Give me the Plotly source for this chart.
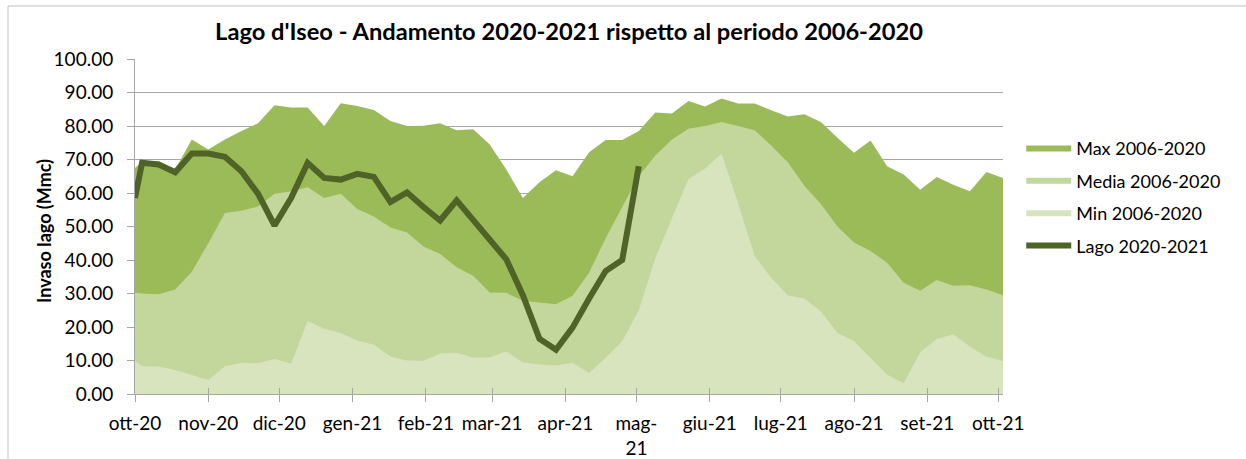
import plotly.graph_objects as go

dates = ["2020-10-01", "2020-10-04", "2020-10-11", "2020-10-18", "2020-10-25",
         "2020-11-01", "2020-11-08", "2020-11-15", "2020-11-22", "2020-11-29",
         "2020-12-06", "2020-12-13", "2020-12-20", "2020-12-27", "2021-01-03",
         "2021-01-10", "2021-01-17", "2021-01-24", "2021-01-31", "2021-02-07",
         "2021-02-14", "2021-02-21", "2021-02-28", "2021-03-07", "2021-03-14",
         "2021-03-21", "2021-03-28", "2021-04-04", "2021-04-11", "2021-04-18",
         "2021-04-25", "2021-05-02", "2021-05-09", "2021-05-16", "2021-05-23",
         "2021-05-30", "2021-06-06", "2021-06-13", "2021-06-20", "2021-06-27",
         "2021-07-04", "2021-07-11", "2021-07-18", "2021-07-25", "2021-08-01",
         "2021-08-08", "2021-08-15", "2021-08-22", "2021-08-29", "2021-09-05",
         "2021-09-12", "2021-09-19", "2021-09-26", "2021-10-03"]

max_vals = [67.5, 69.5, 69.5, 67.0, 76.0, 73.0, 76.0, 78.5, 80.8, 86.2,
            85.5, 85.5, 80.0, 86.8, 86.0, 84.8, 81.5, 80.0, 80.1, 80.8,
            78.7, 79.0, 74.5, 67.0, 58.5, 63.2, 66.8, 65.0, 72.2, 75.8,
            75.8, 78.5, 84.0, 83.7, 87.5, 85.8, 88.2, 86.7, 86.7, 84.7,
            82.8, 83.5, 81.2, 76.5, 72.0, 75.7, 68.0, 65.5, 61.0, 64.8,
            62.5, 60.5, 66.3, 64.5]

media_vals = [30.2, 30.0, 29.8, 31.2, 36.5, 45.0, 54.0, 54.7, 56.0, 59.8,
              60.5, 61.7, 58.5, 59.8, 55.2, 53.0, 49.7, 48.2, 44.0, 41.8,
              37.8, 35.3, 30.3, 30.2, 27.8, 27.3, 26.8, 29.3, 36.2, 46.5,
              55.8, 65.0, 71.2, 76.0, 79.2, 80.0, 81.2, 80.0, 78.7, 74.2,
              69.2, 62.2, 56.7, 50.0, 45.2, 42.7, 39.2, 33.2, 30.8, 34.0,
              32.3, 32.5, 31.2, 29.5]

min_vals = [9.8, 8.3, 8.2, 7.2, 5.7, 4.2, 8.3, 9.3, 9.2, 10.5,
            9.0, 21.8, 19.5, 18.2, 16.0, 14.7, 11.2, 10.0, 9.9, 12.1,
            12.3, 10.8, 11.0, 12.7, 9.5, 8.8, 8.5, 9.3, 6.3, 10.8,
            15.8, 25.0, 40.5, 52.5, 64.2, 67.3, 71.7, 57.0, 41.2, 34.7,
            29.5, 28.5, 24.7, 18.2, 15.8, 10.8, 5.8, 3.2, 12.5, 16.4,
            17.8, 14.2, 11.2, 9.8]

lago_vals = [58.5, 69.0, 68.5, 66.2, 71.8, 71.8, 70.8, 66.5, 59.8, 50.3,
             58.5, 69.0, 64.5, 64.0, 65.7, 64.8, 57.3, 60.2, 55.8, 51.8,
             57.8, 52.0, 46.5, 40.2, 29.5, 16.5, 13.2, 19.8, 28.5, 36.7,
             40.0, 68.0]

month_ticks = ["2020-10-01", "2020-11-01", "2020-12-01", "2021-01-01", "2021-02-01",
               "2021-03-01", "2021-04-01", "2021-05-01", "2021-06-01", "2021-07-01",
               "2021-08-01", "2021-09-01", "2021-10-01"]
month_labels = ["ott-20", "nov-20", "dic-20", "gen-21", "feb-21", "mar-21", "apr-21",
                "mag-<br>21", "giu-21", "lug-21", "ago-21", "set-21", "ott-21"]
y_ticks = [0, 10, 20, 30, 40, 50, 60, 70, 80, 90, 100]

names = ["Max 2006-2020", "Media 2006-2020", "Min 2006-2020", "Lago 2020-2021"]
colors = ["#9BBB59", "#C3D69B", "#D7E4BD", "#4F6228"]

FONT = "Lato"
GRID = "#A6A6A6"
X_RANGE = ["2020-10-01", "2021-10-03"]

fig = go.Figure()
for name, vals, col in zip(names[:3], [max_vals, media_vals, min_vals], colors[:3]):
    fig.add_trace(go.Scatter(x=dates, y=vals, name=name, legendgroup=name,
                             mode="none", fill="tozeroy", fillcolor=col,
                             hoverinfo="x+y"))
fig.add_trace(go.Scatter(x=dates[:len(lago_vals)], y=lago_vals, name=names[3],
                         legendgroup=names[3], mode="lines",
                         line=dict(color=colors[3], width=6)))
# invisible helper trace so the overlay axis (inside half of the crossing ticks) is drawn
fig.add_trace(go.Scatter(x=[X_RANGE[0]], y=[None], xaxis="x2", showlegend=False,
                         hoverinfo="skip", mode="lines"))

fig.update_layout(
    width=1246, height=459,
    margin=dict(l=135, r=243, t=59, b=65, autoexpand=False),
    paper_bgcolor="white", plot_bgcolor="white",
    font=dict(family=FONT, color="black"),
    title=dict(text="<b>Lago d'Iseo - Andamento 2020-2021 rispetto al periodo 2006-2020</b>",
               x=0.5, xref="paper", xanchor="center",
               y=1 - 32 / 459, yref="container", yanchor="middle",
               font=dict(family=FONT, size=23.7, color="black")),
    xaxis=dict(type="date", range=X_RANGE, tickmode="array",
               tickvals=month_ticks, ticktext=month_labels,
               ticks="outside", ticklen=7, tickcolor=GRID, tickwidth=1,
               ticklabelstandoff=5, automargin=False,
               showline=True, linecolor=GRID, linewidth=1,
               showgrid=False, zeroline=False,
               tickfont=dict(family=FONT, size=19, color="black")),
    xaxis2=dict(type="date", range=X_RANGE, overlaying="x", anchor="y",
                tickmode="array", tickvals=month_ticks, automargin=False,
                ticks="inside", ticklen=6, tickcolor=GRID, tickwidth=1,
                showticklabels=False, showline=False, showgrid=False, zeroline=False),
    yaxis=dict(range=[0, 100], tickmode="array", tickvals=y_ticks,
               tickformat=".2f", ticks="outside", ticklen=7, tickcolor=GRID,
               ticklabelstandoff=10, automargin=False,
               showline=True, linecolor=GRID, linewidth=1,
               showgrid=True, gridcolor=GRID, gridwidth=1, zeroline=False,
               tickfont=dict(family=FONT, size=19, color="black")),
    legend=dict(x=1.021, xanchor="left", y=0.7875, yanchor="top",
                traceorder="grouped", tracegroupgap=6, itemwidth=45,
                font=dict(family=FONT, size=18, color="black"),
                bgcolor="rgba(0,0,0,0)"),
    showlegend=True,
    annotations=[dict(text="<b>Invaso lago (Mmc)</b>", textangle=-90,
                      xref="paper", yref="paper",
                      x=(43.5 - 135) / 868, y=(394 - 231.5) / 335,
                      xanchor="center", yanchor="middle", showarrow=False,
                      font=dict(family=FONT, size=18, color="black"))],
    shapes=[dict(type="rect", xref="paper", yref="paper",
                 x0=(8 - 135) / 868, x1=1.5, y0=-0.5, y1=(394 - 6) / 335,
                 line=dict(color="#BFBFBF", width=1), layer="below")],
)

fig.write_html("out.html", config={"displayModeBar": False},
               post_script="document.body.style.margin='0';")
